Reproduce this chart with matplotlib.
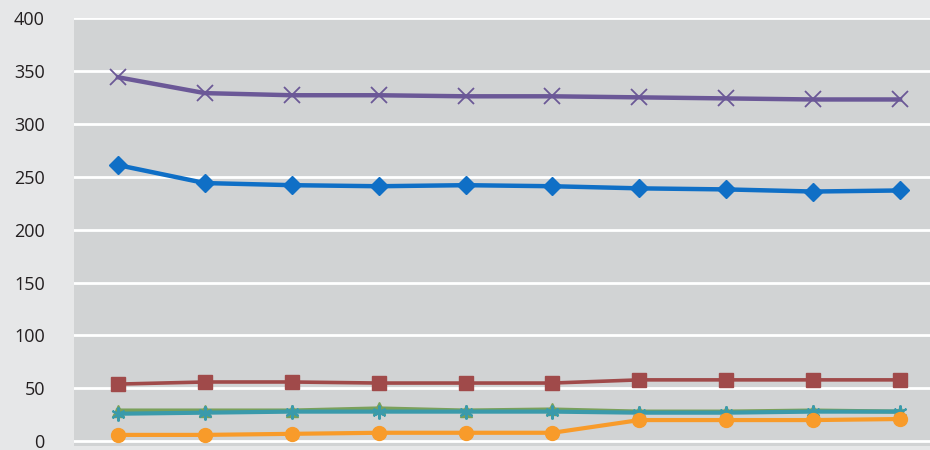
import matplotlib
matplotlib.use("Agg")
import matplotlib.pyplot as plt

# values (10 periods)
periods = list(range(10))
purple_x = [344, 329, 327, 327, 326, 326, 325, 324, 323, 323]
blue_diamond = [261, 244, 242, 241, 242, 241, 239, 238, 236, 237]
red_square = [54, 56, 56, 55, 55, 55, 58, 58, 58, 58]
green_triangle = [29, 29, 29, 31, 29, 30, 28, 28, 29, 28]
teal_star = [26, 27, 28, 28, 28, 28, 27, 27, 28, 28]
orange_circle = [6, 6, 7, 8, 8, 8, 20, 20, 20, 21]
yticks = [0, 50, 100, 150, 200, 250, 300, 350, 400]

plt.rcParams['font.family'] = ['Open Sans', 'DejaVu Sans']

fig = plt.figure(figsize=(9.3, 4.5), dpi=100)
fig.patch.set_facecolor('#e6e7e8')
ax = fig.add_axes([74 / 930, 4 / 450, 856 / 930, 428 / 450])
ax.set_facecolor('#d1d3d4')

for y in yticks:
    ax.axhline(y, color='white', lw=2, zorder=1)

ax.plot(periods, blue_diamond, color='#0f6fc6', lw=3.2, marker='D', ms=9, zorder=3)
ax.plot(periods, red_square, color='#a04a4a', lw=2.6, marker='s', ms=10, zorder=3)
ax.plot(periods, green_triangle, color='#7aa05a', lw=3, marker='^', ms=9, zorder=3)
ax.plot(periods, purple_x, color='#6b5897', lw=3.2, marker='x', ms=11, mew=1.3, zorder=3)
ax.plot(periods, teal_star, color='#3a9aab', lw=3, marker=(6, 2, 0), ms=10, mew=1.5, zorder=3)
ax.plot(periods, orange_circle, color='#f89b2a', lw=3, marker='o', ms=10, zorder=3)

ax.set_xlim(-0.506, 9.345)
ax.set_ylim(-4.5, 400)
ax.set_yticks(yticks)
ax.set_xticks([])
ax.tick_params(axis='y', length=0, pad=21, labelsize=13, labelcolor='#231f20')
for s in ax.spines.values():
    s.set_visible(False)

fig.savefig('out.png', dpi=100, facecolor=fig.get_facecolor())
